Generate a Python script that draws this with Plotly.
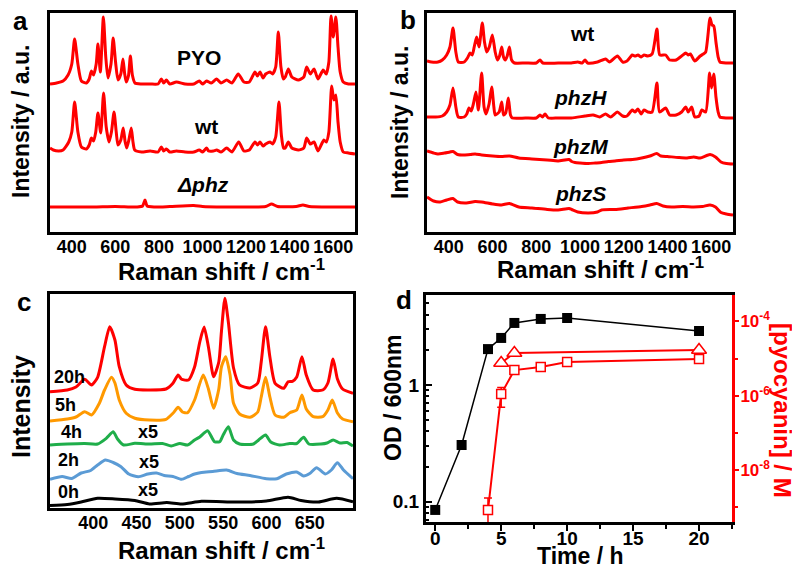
import plotly.graph_objects as go

# ---------------- data ----------------
# Panel a (Raman shift cm-1, relative intensity in arbitrary stacked units)
a_pyo_x = [300, 330, 360, 383, 400, 413, 428, 444, 467, 480, 490, 500, 512, 520, 531, 545, 556, 566, 580, 590,
           601, 612, 625, 635, 643, 650, 660, 669, 678, 690, 720, 760, 796, 811, 822, 834, 850, 880, 920, 960,
           985, 1000, 1019, 1040, 1065, 1085, 1111, 1135, 1164, 1190, 1215, 1241, 1252, 1264, 1278, 1290, 1310,
           1322, 1336, 1348, 1360, 1371, 1380, 1394, 1410, 1440, 1465, 1478, 1495, 1512, 1530, 1554, 1568, 1580,
           1590, 1600, 1612, 1622, 1632, 1646, 1670, 1700]
a_pyo_y = [148, 149, 151, 157, 168, 193, 168, 151, 149, 153, 161, 157, 168, 188, 160, 215, 175, 154, 168, 194,
           170, 152, 158, 173, 158, 150, 156, 176, 157, 149, 148, 148, 148, 153, 149, 152, 148, 150, 148, 148,
           151, 148, 151, 149, 153, 149, 152, 149, 158, 150, 150, 160, 156, 160, 154, 158, 160,
           158, 165, 200, 165, 153, 155, 163, 155, 152, 155, 165, 158, 163, 153, 162, 158, 170,
           216, 195, 215, 185, 160, 150, 148, 148]

a_wt_x = [300, 315, 340, 360, 386, 400, 413, 428, 444, 467, 480, 490, 500, 510, 520, 533, 546, 558, 571, 582,
          594, 604, 612, 625, 636, 645, 652, 662, 673, 681, 689, 720, 760, 796, 811, 822, 834, 850, 880, 920,
          960, 985, 1000, 1019, 1028, 1050, 1065, 1085, 1111, 1135, 1166, 1190, 1215, 1241, 1252, 1264, 1278,
          1290, 1310, 1322, 1336, 1351, 1362, 1372, 1380, 1394, 1410, 1440, 1465, 1478, 1495, 1512, 1530, 1557,
          1568, 1580, 1593, 1603, 1612, 1622, 1632, 1646, 1670, 1700]
a_wt_y = [84, 82, 81, 82, 90, 100, 130, 100, 85, 83, 87, 94, 91, 100, 119, 99, 139, 105, 90, 100,
          120, 100, 87, 92, 104, 90, 84, 92, 104, 90, 82, 80, 81, 80, 85, 81, 83, 80, 81, 80,
          80, 82, 80, 84, 81, 81, 82, 80, 84, 80, 90, 81, 82, 90, 87, 90, 86,
          88, 90, 88, 95, 130, 97, 84, 84, 90, 84, 82, 84, 94, 88, 90, 81, 92,
          90, 100, 146, 132, 137, 110, 90, 80, 79, 78]

a_dphz_x = [300, 400, 500, 600, 700, 725, 736, 746, 780, 850, 960, 1000, 1100, 1200, 1290, 1317, 1345, 1430,
            1461, 1490, 1600, 1700]
a_dphz_y = [25, 25, 25, 25.5, 25, 26, 32, 26, 25, 25.5, 26.5, 25.5, 25, 25, 25.5, 28, 25.5, 25.5,
            27, 25.5, 25, 25]

# Panel b
b_wt_x = [300, 320, 350, 370, 390, 405, 419, 432, 443, 470, 485, 497, 507, 516, 527, 538, 553, 563, 573, 585,
          599, 612, 622, 632, 642, 650, 658, 667, 677, 687, 700, 750, 800, 817, 830, 900, 960, 990, 1010, 1023,
          1035, 1080, 1117, 1135, 1171, 1195, 1215, 1239, 1252, 1265, 1280, 1293, 1310, 1330, 1352, 1365, 1392,
          1410, 1440, 1465, 1484, 1495, 1505, 1525, 1550, 1564, 1575, 1595, 1604, 1612, 1622, 1632, 1640, 1670, 1700]
b_wt_y = [171, 170, 170, 172, 177, 185, 204, 180, 170, 170, 174, 179, 177, 185, 195, 185, 209, 190, 180, 185,
          197, 180, 172, 176, 185, 175, 172, 176, 185, 172, 169, 169, 169, 172, 169, 169, 169, 170, 169, 172,
          169, 170, 173, 170, 176, 170, 171, 177, 176, 177, 175, 177, 176, 178, 203, 177, 177,
          172, 172, 176, 179, 177, 178, 171, 176, 178, 180, 214, 207, 206, 190, 175, 170, 169, 169]

b_phzh_x = [300, 340, 370, 390, 405, 419, 432, 443, 470, 482, 492, 502, 512, 524, 535, 550, 561, 570, 584, 596,
            606, 612, 630, 642, 650, 660, 672, 682, 690, 750, 800, 817, 828, 840, 855, 900, 960, 1023, 1060, 1090,
            1117, 1140, 1171, 1195, 1215, 1239, 1252, 1265, 1280, 1293, 1310, 1330, 1352, 1364, 1392, 1410, 1440,
            1465, 1484, 1495, 1511, 1525, 1545, 1557, 1575, 1593, 1602, 1612, 1622, 1632, 1640, 1670, 1700]
b_phzh_y = [115, 115, 116, 120, 127, 144, 125, 115, 115, 118, 124, 121, 128, 140, 122, 159, 125, 118, 128, 145,
            125, 117, 120, 130, 117, 119, 134, 117, 114, 114, 114, 117, 115, 118, 114, 114, 114, 116, 117, 115,
            118, 115, 120, 116, 116, 122, 120, 123, 118, 122, 120, 120, 149, 120, 124, 117, 117,
            120, 125, 120, 125, 115, 116, 122, 120, 159, 144, 158, 135, 120, 115, 114, 114]

b_phzm_x = [300, 330, 350, 380, 405, 419, 440, 470, 500, 520, 550, 600, 640, 677, 720, 780, 850, 900, 950, 962,
            977, 1000, 1038, 1070, 1099, 1130, 1160, 1200, 1240, 1282, 1320, 1351, 1370, 1400, 1450, 1490, 1520,
            1550, 1595, 1620, 1645, 1670, 1700]
b_phzm_y = [81, 79, 78, 79, 80, 80.5, 77.5, 77, 77.5, 78, 77, 76, 75.5, 76, 74, 73, 72, 71, 72.5, 70.5,
            69.5, 69, 68.5, 69, 69.5, 70.5, 71, 72, 72.5, 74, 76, 78.5, 76, 75.5, 74.5, 74, 75,
            74, 77.5, 75, 70, 68.5, 68]

b_phzs_x = [300, 330, 360, 390, 419, 440, 480, 520, 550, 600, 640, 677, 720, 780, 850, 900, 950, 962, 990, 1038,
            1080, 1099, 1160, 1220, 1282, 1320, 1351, 1380, 1420, 1470, 1520, 1560, 1595, 1620, 1645, 1670, 1700]
b_phzs_y = [35, 31, 30, 32, 33.5, 30, 29, 30.5, 30, 28, 27, 28.5, 25, 24, 22.5, 22, 23.5, 22.5, 20, 19,
            20, 22, 22.5, 24, 25.5, 27, 28.5, 26, 25, 25.5, 25, 25.5, 27, 25, 19.5, 18, 17]

# Panel c (time series of Raman spectra)
c_20h_x = [350, 370, 380, 390, 398, 405, 413, 419, 425, 430, 438, 448, 465, 484, 492, 498, 502, 510, 517, 523,
           528, 533, 539, 545, 548, 552, 556, 562, 569, 581, 590, 594, 599, 604, 610, 620, 625, 630, 635, 641,
           646, 654, 665, 671, 677, 682, 688, 700]
c_20h_y = [115.3, 117, 120, 127.7, 122, 129.7, 160.3, 180.3, 167, 140.3, 122, 117.7, 117, 118, 123.7, 132, 127.7,
           127, 140, 165, 180, 160, 130.3, 145, 175, 208.7, 185, 139, 122, 119, 124, 145, 180.3, 150, 123.7,
           118.7, 125.3, 125.7, 130, 150.3, 132, 117, 117, 124, 148, 128, 118, 113.7]

c_5h_x = [350, 370, 380, 390, 398, 407, 413, 421, 425, 430, 438, 448, 465, 484, 492, 498, 503, 509, 517, 527,
          533, 539, 545, 548, 553, 558, 562, 569, 581, 590, 594, 599, 604, 610, 620, 627, 635, 641, 646, 654,
          665, 671, 676, 682, 688, 700]
c_5h_y = [86, 88, 90, 95.3, 92, 103.7, 117, 129.7, 124, 107, 93.7, 88.7, 87, 87.7, 93.7, 99.7, 95, 94.3, 107,
          132, 118, 98.7, 118, 140, 150.3, 132, 103.7, 93, 89.7, 95, 110, 129.7, 110, 92, 89.7, 94.3, 97, 112,
          98, 90.3, 90.3, 97, 107, 94, 88, 85.3]

c_4h_x = [350, 370, 390, 405, 415, 423, 428, 435, 448, 465, 480, 490, 500, 509, 517, 523, 532, 540, 546, 550,
          556, 562, 569, 585, 591, 599, 605, 615, 627, 635, 643, 649, 663, 670, 677, 685, 693, 700]
c_4h_y = [62, 63, 63.5, 63, 68.7, 75.3, 68, 62, 63.7, 63, 63.5, 61, 63.5, 62, 67, 70, 76.3, 65.3, 65.3, 72,
          80.3, 67, 63, 63, 67, 72, 65, 62, 63.5, 63.5, 69.7, 63, 63, 64, 67, 64, 64.5, 61]

c_2h_x = [350, 364, 375, 386, 397, 405, 414, 423, 432, 441, 452, 463, 473, 482, 492, 502, 510, 517, 525, 538,
          554, 566, 581, 600, 612, 623, 635, 643, 650, 658, 668, 675, 682, 689, 700]
c_2h_y = [27.7, 30.5, 28.5, 34, 36.5, 42, 47, 44.5, 40.3, 33, 30.3, 33, 34, 31.5, 30.5, 27.7, 30.5, 33, 34.5,
          35.5, 37, 33.5, 31.5, 28.3, 28.3, 33, 35, 31, 33.5, 39.3, 33, 37, 44.3, 37, 28.3]

c_0h_x = [350, 370, 386, 405, 425, 448, 465, 485, 502, 525, 565, 600, 625, 640, 660, 681, 700]
c_0h_y = [1.5, 2.5, 5, 8.7, 8, 6.5, 3, 4.5, 3, 5.7, 5, 6, 9.7, 6.5, 5, 8.7, 5.3]

# Panel d (growth and pyocyanin concentration)
d_time_od = [0, 2, 4, 5, 6, 8, 10, 20]
d_od = [0.085, 0.306, 2.03, 2.53, 3.40, 3.68, 3.75, 2.90]
d_time_pyo = [4, 5, 6, 8, 10, 20]
d_pyo_sq = [8.3e-10, 1.11e-6, 4.9e-6, 5.9e-6, 8.1e-6, 9.8e-6]
d_pyo_sq_err_up = [9.1e-10, 0.55e-6, 0, 0, 0, 0]
d_pyo_sq_err_dn = [8.2e-10, 0.62e-6, 0, 0, 0, 0]
d_time_tri = [5, 6, 20]
d_pyo_tri = [7.6e-6, 1.41e-5, 1.7e-5]

a_ticks = [400, 600, 800, 1000, 1200, 1400, 1600]
c_ticks = [400, 450, 500, 550, 600, 650]
d_xticks = [0, 5, 10, 15, 20]

# ---------------- figure ----------------
FONT = "Liberation Sans, Arial, Helvetica, sans-serif"
# the page body has an 8px margin: the figure is sized to fill the window exactly
OFF = 8
W, H = 800 - 2 * OFF, 574 - 2 * OFF
RED = "#ff0000"


def px2x(p):
    return (p - OFF) / W


def py2y(p):
    return 1 - (p - OFF) / H


fig = go.Figure()

spec = dict(mode="lines", line=dict(color=RED, width=3, shape="spline", smoothing=0.6),
            hoverinfo="skip", showlegend=False)

for xs, ys in [(a_pyo_x, a_pyo_y), (a_wt_x, a_wt_y), (a_dphz_x, a_dphz_y)]:
    fig.add_trace(go.Scatter(x=xs, y=ys, xaxis="x", yaxis="y", **spec))
for xs, ys in [(b_wt_x, b_wt_y), (b_phzh_x, b_phzh_y), (b_phzm_x, b_phzm_y), (b_phzs_x, b_phzs_y)]:
    fig.add_trace(go.Scatter(x=xs, y=ys, xaxis="x2", yaxis="y2", **spec))

c_series = [(c_0h_x, c_0h_y, "#000000"), (c_2h_x, c_2h_y, "#5b9bd5"), (c_4h_x, c_4h_y, "#1fae4a"),
            (c_5h_x, c_5h_y, "#ff9900"), (c_20h_x, c_20h_y, RED)]
for xs, ys, col in c_series:
    fig.add_trace(go.Scatter(x=xs, y=ys, xaxis="x3", yaxis="y3", mode="lines",
                             line=dict(color=col, width=3, shape="spline", smoothing=0.6),
                             hoverinfo="skip", showlegend=False))

# panel d
fig.add_trace(go.Scatter(x=d_time_od, y=d_od, xaxis="x4", yaxis="y4", mode="lines+markers",
                         line=dict(color="black", width=1.5),
                         marker=dict(symbol="square", size=10, color="black"), showlegend=False))
fig.add_trace(go.Scatter(x=d_time_tri, y=d_pyo_tri, xaxis="x4", yaxis="y5", mode="lines+markers",
                         line=dict(color=RED, width=2),
                         marker=dict(symbol="triangle-up", size=13, color="white",
                                     line=dict(color=RED, width=1.5)), showlegend=False))
fig.add_trace(go.Scatter(x=d_time_pyo, y=d_pyo_sq, xaxis="x4", yaxis="y5", mode="lines+markers",
                         line=dict(color=RED, width=2),
                         marker=dict(symbol="square", size=9, color="white",
                                     line=dict(color=RED, width=1.5)),
                         error_y=dict(type="data", symmetric=False, array=d_pyo_sq_err_up,
                                      arrayminus=d_pyo_sq_err_dn, color=RED, thickness=1.5, width=4),
                         showlegend=False))

tickfont = dict(family=FONT, size=18, color="black", weight="bold")
frame = dict(showline=True, linecolor="black", linewidth=3, mirror=True, showgrid=False, zeroline=False)

layout = dict(
    width=W, height=H, autosize=False,
    margin=dict(l=0, r=0, t=0, b=0),
    paper_bgcolor="white", plot_bgcolor="white",
    font=dict(family=FONT, color="black"),
    showlegend=False,
    xaxis=dict(domain=[px2x(50), px2x(355)], range=[300, 1700], anchor="y", ticks="",
               tickvals=a_ticks, tickfont=tickfont, ticklabelstandoff=-4, **frame),
    yaxis=dict(domain=[py2y(232), py2y(13)], range=[0, 219], anchor="x", showticklabels=False,
               ticks="", **frame),
    xaxis2=dict(domain=[px2x(427), px2x(733)], range=[300, 1700], anchor="y2", ticks="",
                tickvals=a_ticks, tickfont=tickfont, ticklabelstandoff=-4, **frame),
    yaxis2=dict(domain=[py2y(232), py2y(13)], range=[0, 219], anchor="x2", showticklabels=False,
                ticks="", **frame),
    xaxis3=dict(domain=[px2x(50), px2x(353)], range=[350, 700], anchor="y3", ticks="",
                tickvals=c_ticks, tickfont=tickfont, ticklabelstandoff=-4, **frame),
    yaxis3=dict(domain=[py2y(508), py2y(294)], range=[-1, 213], anchor="x3", showticklabels=False,
                ticks="", **frame),
    xaxis4=dict(domain=[px2x(426), px2x(732)], range=[-0.7, 22.5], anchor="y4",
                tickvals=d_xticks, ticks="outside", ticklen=6, tickwidth=2, tickcolor="black",
                minor=dict(tickvals=[2.5, 7.5, 12.5, 17.5, 22.5], ticks="outside", ticklen=4,
                           tickwidth=2, tickcolor="black"),
                tickfont=dict(family=FONT, size=19, color="black", weight="bold"),
                ticklabelstandoff=-9,
                showline=True, linecolor="black", linewidth=3, mirror=True, showgrid=False,
                zeroline=False),
    yaxis4=dict(domain=[py2y(522), py2y(295)], type="log", range=[-1.174, 0.771], anchor="x4",
                tickvals=[0.1, 1], ticktext=["0.1", "1"], ticks="inside", ticklen=6, tickwidth=2,
                tickcolor="black",
                minor=dict(tickvals=[0.07, 0.08, 0.09, 0.2, 0.3, 0.4, 0.5, 0.6, 0.7, 0.8, 0.9, 2, 3, 4, 5],
                           ticks="inside", ticklen=3, tickwidth=1.5, tickcolor="black"),
                tickfont=dict(family=FONT, size=19, color="black", weight="bold"),
                showline=True, linecolor="black", linewidth=3, mirror=False, showgrid=False,
                zeroline=False),
    yaxis5=dict(overlaying="y4", side="right", anchor="x4", type="log", range=[-9.404, -3.286],
                tickvals=[1e-8, 1e-6, 1e-4],
                ticktext=["10<sup>-8</sup>", "10<sup>-6</sup>", "10<sup>-4</sup>"],
                ticks="outside", ticklen=4, tickwidth=2, tickcolor=RED,
                minor=dict(tickvals=[1e-9, 1e-7, 1e-5], ticks="outside", ticklen=3, tickwidth=2,
                           tickcolor=RED),
                tickfont=dict(family=FONT, size=17, color=RED, weight="bold"),
                ticklabelstandoff=-2,
                showline=True, linecolor=RED, linewidth=3, showgrid=False, zeroline=False),
)
fig.update_layout(**layout)

anns = []


def ann(text, x, y, size, color="black", angle=0):
    anns.append(dict(text=text, x=px2x(x), y=py2y(y), xref="paper", yref="paper",
                     xanchor="center", yanchor="middle", showarrow=False, textangle=angle,
                     font=dict(family=FONT, size=size, color=color, weight="bold")))


# panel letters
ann("a", 20, 21, 26)
ann("b", 408, 20, 26)
ann("c", 24, 302, 26)
ann("d", 404, 300, 26)
# axis titles
ann("Intensity / a.u.", 21, 122, 23, angle=-90)
ann("Intensity / a.u.", 400, 123, 23, angle=-90)
ann("Intensity", 21, 407, 25, angle=-90)
ann("Raman shift / cm<sup>-1</sup>", 221, 270, 24)
ann("Raman shift / cm<sup>-1</sup>", 600, 268, 24)
ann("Raman shift / cm<sup>-1</sup>", 221, 549, 24)
ann("OD / 600nm", 393, 398, 23, angle=-90)
ann("Time / h", 580, 556, 23)
ann("[pyocyanin] / M", 783, 410, 24, color=RED, angle=90)
# labels inside panels
ann("PYO", 199, 58, 21)
ann("wt", 206, 127, 21)
ann("<i>Δphz</i>", 203, 185, 21)
ann("wt", 582, 33, 21)
ann("<i>phzH</i>", 580, 97, 21)
ann("<i>phzM</i>", 580, 147, 21)
ann("<i>phzS</i>", 580, 193, 21)
ann("20h", 69, 377, 18)
ann("5h", 65, 405, 18)
ann("4h", 72, 432, 18)
ann("2h", 68, 460, 18)
ann("0h", 68, 492, 18)
ann("x5", 148, 432, 18)
ann("x5", 149, 462, 18)
ann("x5", 148, 490, 18)

fig.update_layout(annotations=anns)
fig.write_html("out.html")
